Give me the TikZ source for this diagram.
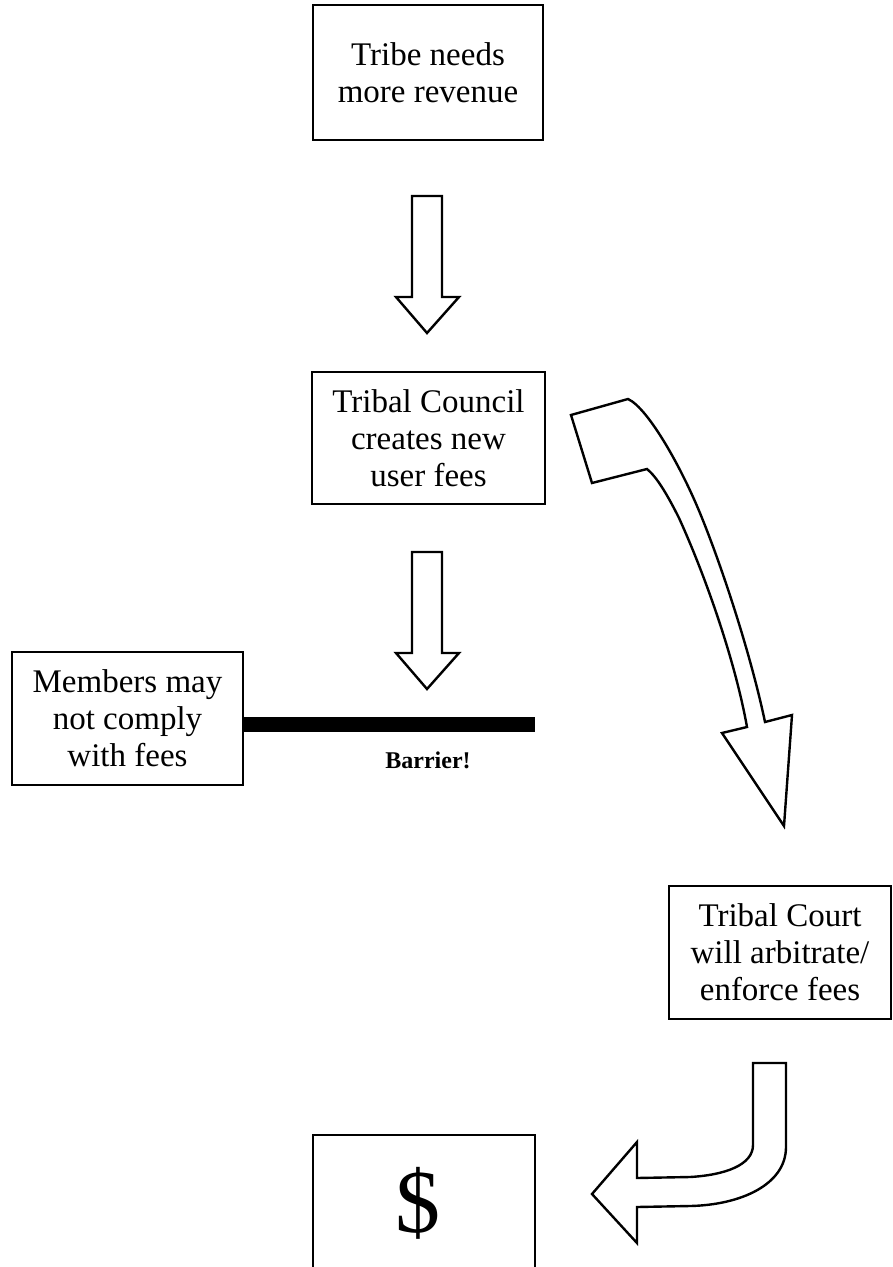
\documentclass[tikz,border=0pt]{standalone}
\usepackage{fontspec}
\setmainfont{Liberation Serif}
\begin{document}
\begin{tikzpicture}[x=1pt,y=-1pt,
  box/.style={draw, line width=2pt, align=center, inner sep=0pt,
    font=\fontsize{33}{37}\selectfont},
  blockarrow/.style={draw, line width=2.4pt, line join=miter, fill=white},
  downblock/.pic={
    \draw[blockarrow] (-15,0) -- (15,0) -- (15,101) -- (32,101) -- (0,137)
      -- (-31,101) -- (-15,101) -- cycle;}]
\useasboundingbox (0,0) rectangle (893,1267);
\clip (0,0) rectangle (893,1267);

% boxes
\node[box, minimum width=230pt, minimum height=135pt] (tribe) at (428,72.5)
  {Tribe needs\\more revenue};
\node[box, minimum width=233pt, minimum height=132pt] (council) at (428.5,438)
  {Tribal Council\\creates new\\user fees};
\node[box, minimum width=231pt, minimum height=133pt] (members) at (127.5,718.5)
  {Members may\\not comply\\with fees};
\node[box, minimum width=222pt, minimum height=133pt] (court) at (780,952.5)
  {Tribal Court\\will arbitrate/\\enforce fees};
\node[box, minimum width=222pt, minimum height=200pt, anchor=north] (money)
  at (424,1134) {};
\node[font=\fontsize{90}{90}\selectfont] (dollar) at (418,1203) {\$};

% barrier
\coordinate (barrierend) at (535,724.5);
\draw[line width=15pt] (members.east |- barrierend) -- (barrierend);
\node[font=\bfseries\fontsize{24}{24}\selectfont] (barrier) at (428,760) {Barrier!};

% straight block arrows
\pic at (427,196) {downblock};
\pic at (427,552) {downblock};

% curved arrow from the council to the court
\draw[blockarrow] (571,415) -- (628,399)
  .. controls (648,408) and (682,468) .. (702,518)
  .. controls (725,575) and (752,660) .. (765,722)
  -- (792,715) -- (784,826) -- (722,733) -- (747,727)
  .. controls (735,660) and (705,575) .. (679,518)
  .. controls (668,496) and (657,477) .. (647,469)
  -- (592,483) -- cycle;

% hooked arrow from the court to the money
\draw[blockarrow] (753,1063) -- (786,1063) -- (786,1147)
  .. controls (786,1185) and (740,1205) .. (690,1206)
  -- (637,1207) -- (637,1243) -- (592,1194) -- (637,1142) -- (637,1178)
  -- (690,1177) .. controls (725,1175) and (753,1165) .. (753,1145) -- cycle;
\end{tikzpicture}
\end{document}
